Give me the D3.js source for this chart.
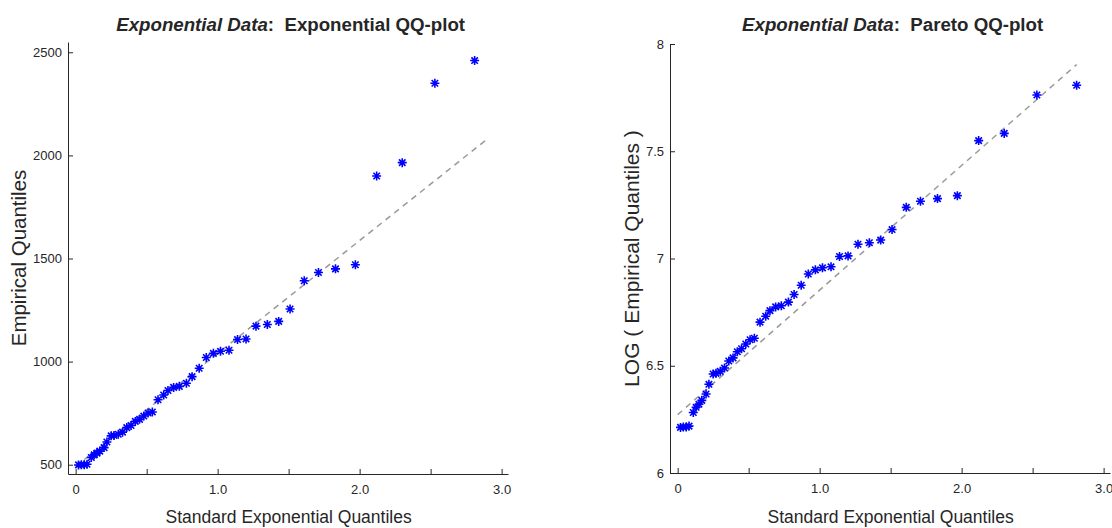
<!DOCTYPE html>
<html>
<head>
<meta charset="utf-8">
<script src="https://cdn.jsdelivr.net/npm/d3@7"></script>
<style>
  body { margin: 0; background: #fff; }
  svg text { font-family: "Liberation Sans", Arial, sans-serif; fill: #262626; }
  .axis path, .axis line { stroke: #262626; }
</style>
</head>
<body>
<svg id="chart" width="1112" height="528"></svg>
<script>
// standard exponential quantiles (x) shared by both panels
const expQuantiles = [0.02, 0.04, 0.06, 0.08, 0.11, 0.13, 0.15, 0.17, 0.20, 0.22,
  0.25, 0.27, 0.30, 0.33, 0.36, 0.39, 0.42, 0.45, 0.48, 0.51,
  0.54, 0.58, 0.62, 0.65, 0.69, 0.73, 0.78, 0.82, 0.87, 0.92,
  0.97, 1.02, 1.08, 1.14, 1.20, 1.27, 1.35, 1.43, 1.51, 1.61,
  1.71, 1.83, 1.97, 2.12, 2.30, 2.53, 2.81];

// sorted sample (empirical quantiles)
const empirical = [499, 500, 500, 502, 535, 548, 556, 566, 583, 610,
  640, 642, 648, 658, 680, 690, 710, 720, 736, 751,
  756, 815, 838, 860, 875, 880, 895, 927, 968, 1020,
  1040, 1050, 1055, 1107, 1110, 1172, 1180, 1195, 1255, 1392,
  1432, 1450, 1470, 1900, 1965, 2350, 2460];

// reference (fit) lines, endpoints
const expFitLine = [[0, 492], [2.9, 2080]];
const paretoFitLine = [[0, 6.272], [2.81, 7.904]];

const xTicks = [0, 0.5, 1, 1.5, 2, 2.5, 3];
const xTickLabels = { 0: "0", 1: "1.0", 2: "2.0", 3: "3.0" };
const expYTicks = [500, 1000, 1500, 2000, 2500];
const paretoYTicks = [6, 6.5, 7, 7.5, 8];

const svg = d3.select("#chart");

// MATLAB style '*' marker: plus + cross
function asterisk(r) {
  const d = r * 0.72;
  return `M0,${-r}L0,${r}M${-r},0L${r},0M${-d},${-d}L${d},${d}M${-d},${d}L${d},${-d}`;
}

function drawPanel(p) {
  const x = d3.scaleLinear().domain([-0.054, 3.045]).range([p.left, p.right]);
  const y = d3.scaleLinear().domain(p.yDomain).range([p.bottom, p.top]);

  // 1. axes, ticks pointing inward
  svg.append("g")
    .attr("class", "axis")
    .attr("transform", `translate(0,${p.bottom})`)
    .call(d3.axisBottom(x).tickValues(xTicks)
      .tickFormat(d => xTickLabels[d] || "")
      .tickSizeInner(-5).tickSizeOuter(0).tickPadding(11))
    .call(g => g.selectAll("text").attr("font-size", 13).attr("font-family", null));

  svg.append("g")
    .attr("class", "axis")
    .attr("transform", `translate(${p.left},0)`)
    .call(d3.axisLeft(y).tickValues(p.yTicks)
      .tickFormat(p.yFormat)
      .tickSizeInner(-5).tickSizeOuter(0).tickPadding(6))
    .call(g => g.selectAll("text").attr("font-size", 13).attr("font-family", null))
    .call(g => g.select(".domain").attr("stroke", p.yAxisColor));

  // 2. dashed reference line
  svg.append("path")
    .datum(p.line)
    .attr("fill", "none")
    .attr("stroke", "#999")
    .attr("stroke-width", 1.5)
    .attr("stroke-dasharray", "6,5")
    .attr("d", d3.line().x(d => x(d[0])).y(d => y(d[1])));

  // 3. points
  svg.append("g").selectAll("path")
    .data(expQuantiles.map((q, i) => [q, p.values[i]]))
    .enter().append("path")
    .attr("transform", d => `translate(${x(d[0])},${y(d[1])})`)
    .attr("d", asterisk(4.5))
    .attr("stroke", "#0000ff")
    .attr("stroke-width", 1.6)
    .attr("fill", "none");

  // 4. labels
  const cx = (x(0) + x(3)) / 2;
  const title = svg.append("text")
    .attr("x", cx + 2).attr("y", 31)
    .attr("text-anchor", "middle")
    .attr("font-size", 18.7)
    .attr("font-weight", "bold");
  title.append("tspan").attr("font-style", "italic").text("Exponential Data");
  title.append("tspan").text(":\u00a0 " + p.titleRest);

  svg.append("text")
    .attr("x", cx).attr("y", 523)
    .attr("text-anchor", "middle")
    .attr("font-size", 17.5)
    .text("Standard Exponential Quantiles");

  svg.append("text")
    .attr("transform", `translate(${p.yLabelX},${(p.top + p.bottom) / 2}) rotate(-90)`)
    .attr("text-anchor", "middle")
    .attr("font-size", p.yLabelSize)
    .text(p.yLabel);
}

drawPanel({
  left: 68, right: 508, top: 42, bottom: 474,
  yDomain: [455, 2550], yTicks: expYTicks, yFormat: d3.format("d"),
  values: empirical, line: expFitLine, yAxisColor: "#262626",
  titleRest: "Exponential QQ-plot",
  yLabel: "Empirical Quantiles", yLabelX: 26, yLabelSize: 20.5
});

drawPanel({
  left: 670, right: 1110, top: 44, bottom: 473,
  yDomain: [6, 8], yTicks: paretoYTicks, yFormat: d => String(d),
  values: empirical.map(v => Math.log(v)), line: paretoFitLine, yAxisColor: "#808080",
  titleRest: "Pareto QQ-plot",
  yLabel: "LOG ( Empirical Quantiles )", yLabelX: 639, yLabelSize: 21
});
</script>
</body>
</html>
